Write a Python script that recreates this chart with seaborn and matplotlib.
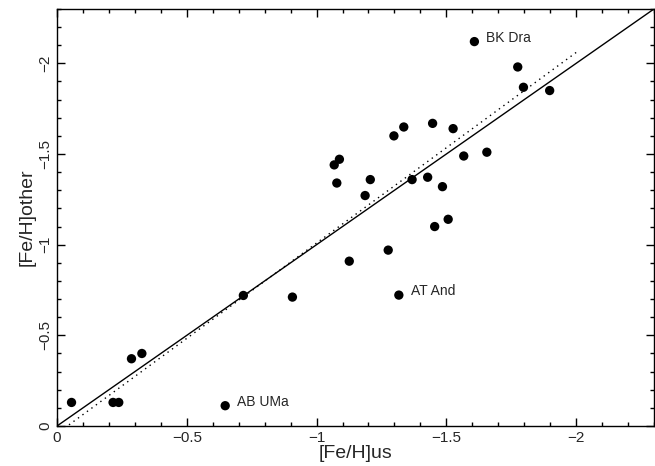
import numpy as np
import pandas as pd
import matplotlib
matplotlib.use("Agg")
import matplotlib.pyplot as plt
from matplotlib.ticker import MultipleLocator
import seaborn as sns

# [Fe/H] from this work vs. literature values
feh_us = [-0.056, -0.216, -0.238, -0.287, -0.327, -0.648, -0.718, -0.907,
          -1.126, -1.276, -1.317, -1.608, -1.775, -1.797, -1.898, -1.336,
          -1.298, -1.447, -1.526, -1.068, -1.088, -1.078, -1.207, -1.187,
          -1.368, -1.428, -1.485, -1.567, -1.656, -1.455, -1.507]
feh_other = [-0.13, -0.13, -0.13, -0.371, -0.40, -0.112, -0.72, -0.711,
             -0.909, -0.970, -0.722, -2.12, -1.98, -1.868, -1.85, -1.649,
             -1.60, -1.669, -1.64, -1.44, -1.471, -1.34, -1.359, -1.271,
             -1.359, -1.372, -1.32, -1.489, -1.51, -1.10, -1.14]

# labelled stars
star_names = ["BK Dra", "AT And", "AB UMa"]
star_x = [-1.608, -1.317, -0.648]
star_y = [-2.12, -0.722, -0.112]

# one-to-one line and fitted relation
one_to_one = [0.0, -2.3]
fit_x = [-0.04, -2.0]
fit_y = [0.0, -2.06]

df = pd.DataFrame({"us": feh_us, "other": feh_other})

sns.set_style("ticks")
plt.rcParams["font.family"] = ["Liberation Sans", "DejaVu Sans"]

fig = plt.figure(figsize=(6.55, 4.66), dpi=100)
ax = fig.add_axes([0.087, 0.0858, 0.9115, 0.895])

sns.lineplot(x=one_to_one, y=one_to_one, ax=ax, color="black", lw=1.0)
sns.lineplot(x=fit_x, y=fit_y, ax=ax, color="black", lw=1.0,
             linestyle=(0, (1, 3)))
sns.scatterplot(data=df, x="us", y="other", ax=ax, color="black",
                s=45, edgecolor="none")

for name, x, y in zip(star_names, star_x, star_y):
    ax.text(x - 0.045, y - 0.02, name, fontsize=10, va="center", ha="left")

ax.set_xlim(0, -2.3)
ax.set_ylim(0, -2.3)
ax.xaxis.set_major_locator(MultipleLocator(0.5))
ax.xaxis.set_minor_locator(MultipleLocator(0.1))
ax.yaxis.set_major_locator(MultipleLocator(0.5))
ax.yaxis.set_minor_locator(MultipleLocator(0.1))
ax.xaxis.set_major_formatter(plt.FuncFormatter(lambda v, p: f"{v:g}".replace("-", "\u2212")))
ax.yaxis.set_major_formatter(plt.FuncFormatter(lambda v, p: f"{v:g}".replace("-", "\u2212")))
ax.tick_params(which="both", direction="in", top=True, right=True,
               labelsize=11, width=1.0, color="black")
ax.tick_params(which="major", length=6)
ax.tick_params(which="minor", length=3)
for lab in ax.get_yticklabels():
    lab.set_rotation(90)
    lab.set_va("center")
for sp in ax.spines.values():
    sp.set_linewidth(1.0)
    sp.set_color("black")

ax.set_xlabel("[Fe/H]us", fontsize=14, labelpad=0)
ax.set_ylabel("[Fe/H]other", fontsize=14, labelpad=2)

fig.savefig("out.png", dpi=100)
